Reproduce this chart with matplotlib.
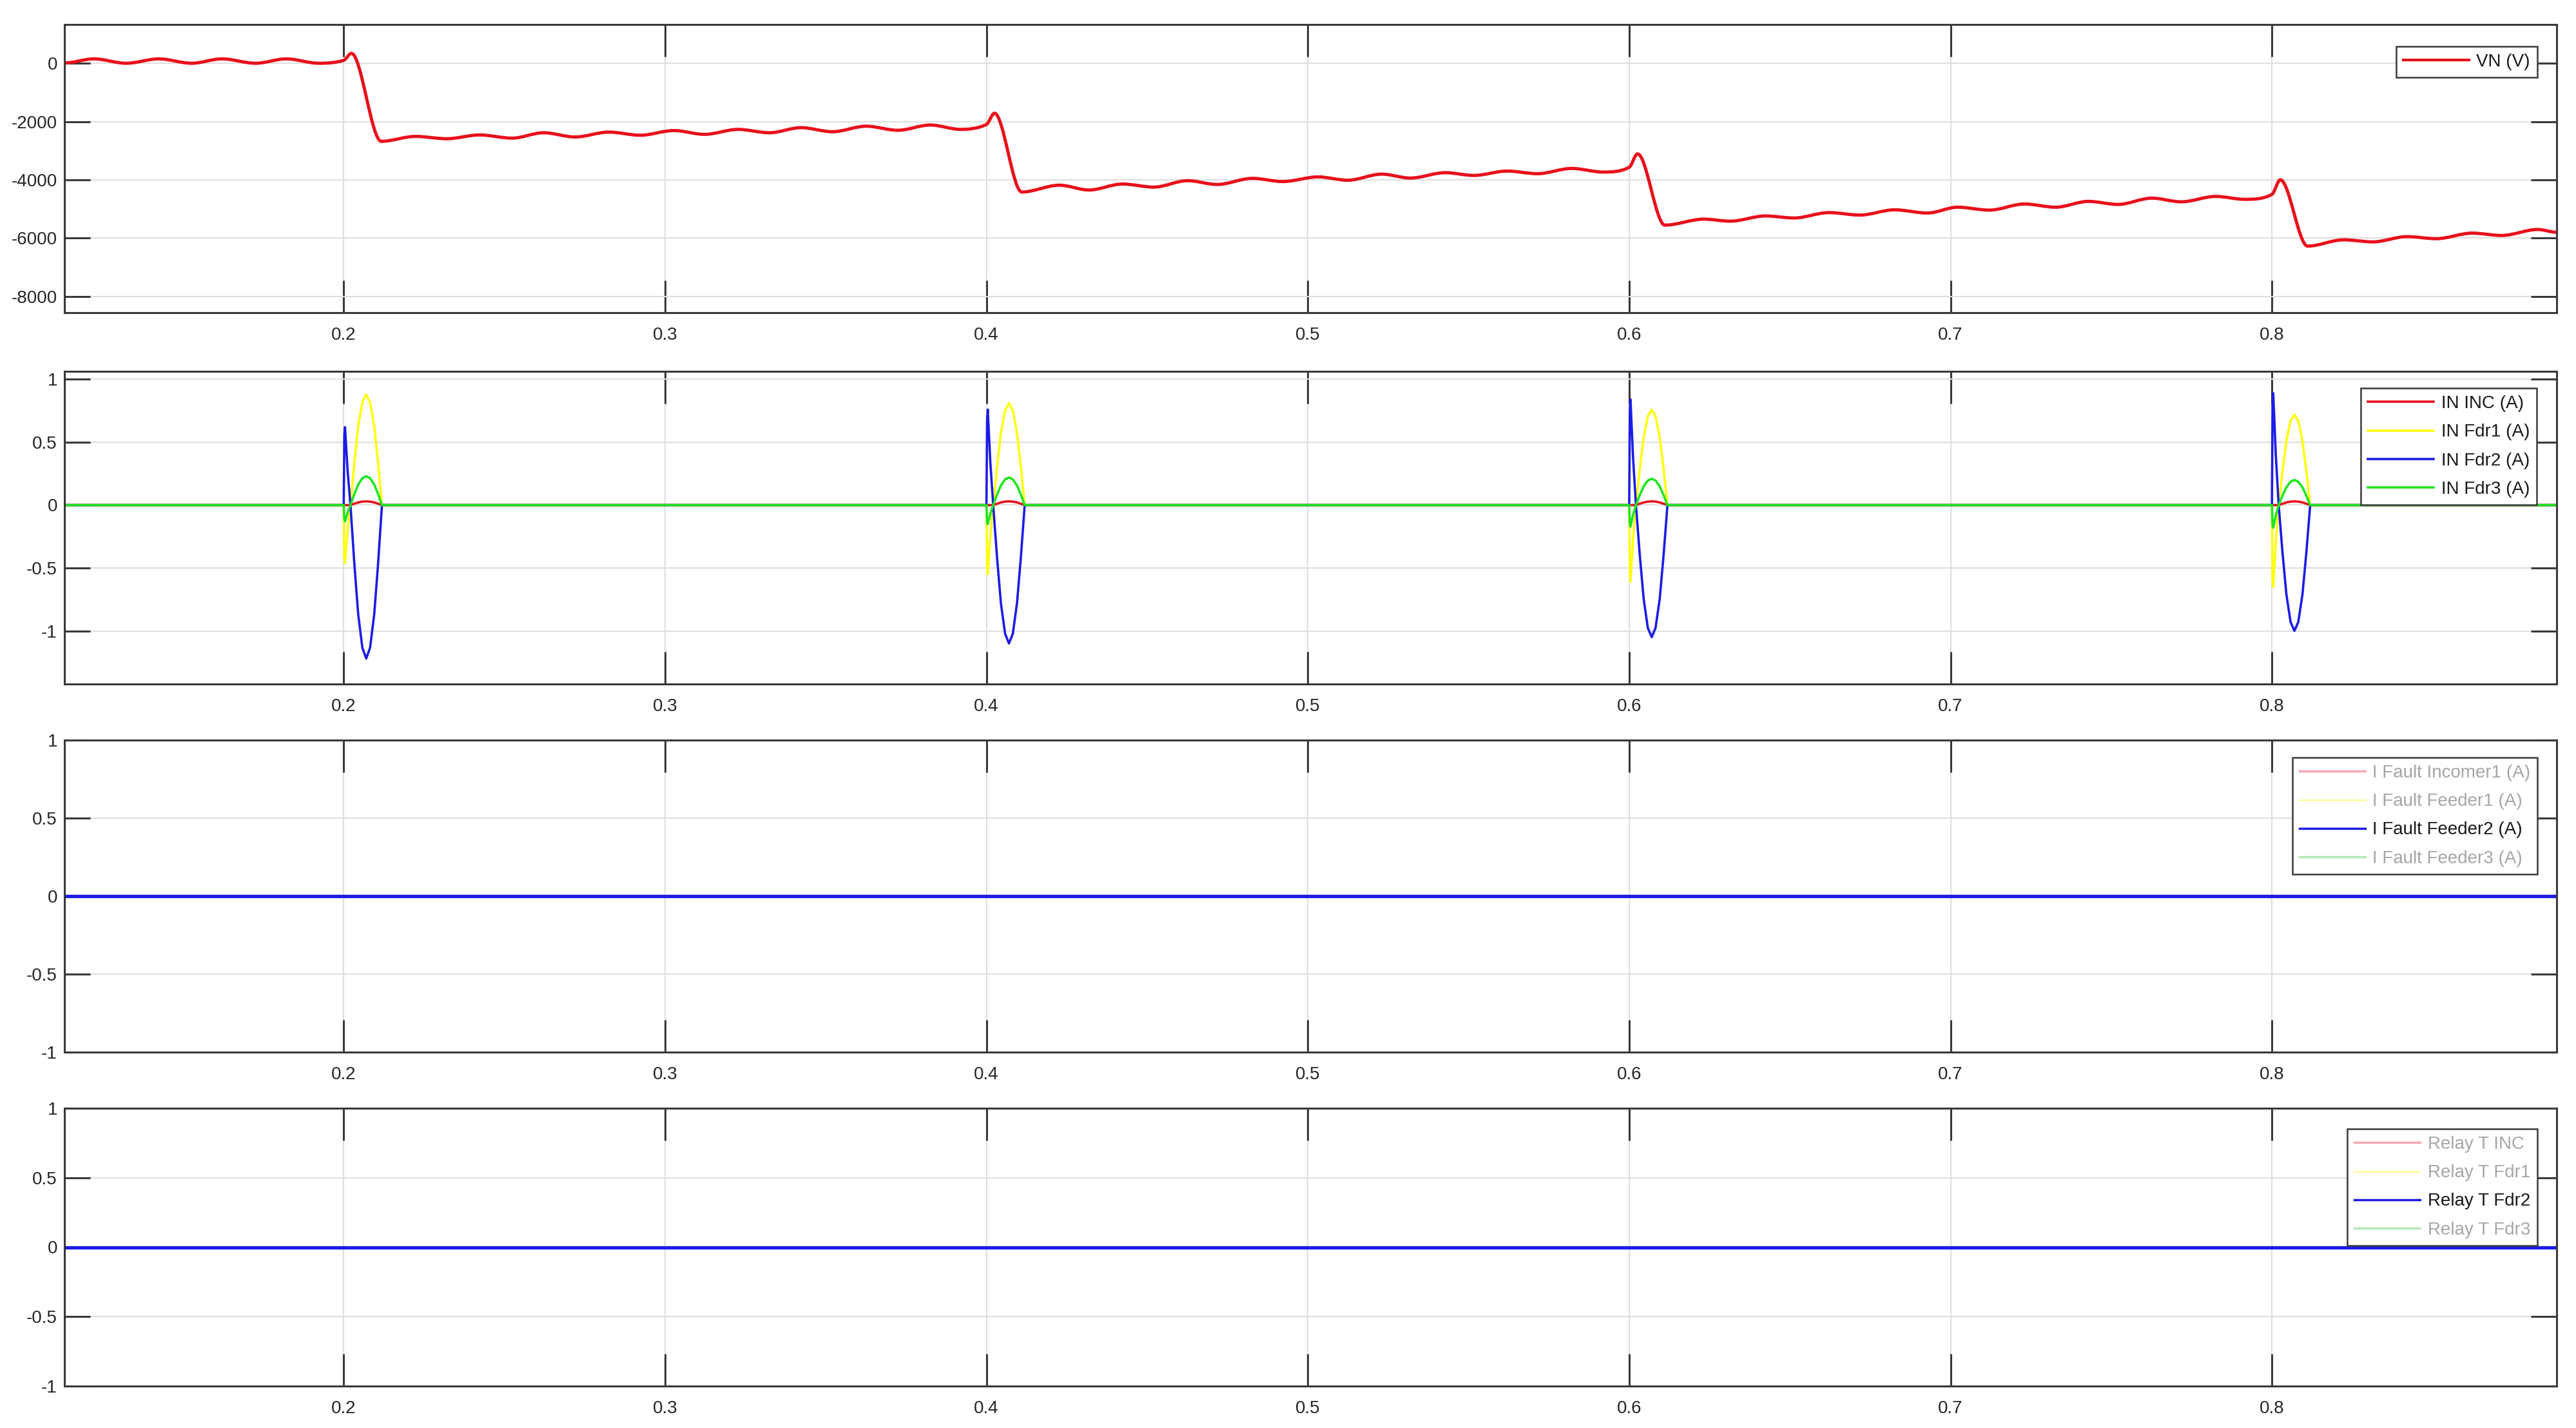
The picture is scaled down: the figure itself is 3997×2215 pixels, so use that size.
import numpy as np
import matplotlib
matplotlib.use("Agg")
import matplotlib.pyplot as plt
from matplotlib import font_manager
from matplotlib.lines import Line2D
from matplotlib.path import Path
from matplotlib.patches import PathPatch

# ---- data ----
X_LIM = (0.1131, 0.8886)
X_TICKS = [0.2, 0.3, 0.4, 0.5, 0.6, 0.7, 0.8]
X_TICK_LABELS = ["0.2", "0.3", "0.4", "0.5", "0.6", "0.7", "0.8"]

# VN (V): peaks / troughs of the trace
VN_T = [0.1131, 0.1223, 0.1323, 0.1425, 0.1527, 0.1621, 0.1726, 0.1821, 0.1923, 0.2000, 0.2024,
        0.2117, 0.2223, 0.2321, 0.2423, 0.2524, 0.2622, 0.2720, 0.2825, 0.2923, 0.3027,
        0.3123, 0.3227, 0.3325, 0.3423, 0.3521, 0.3626, 0.3724, 0.3825, 0.3920, 0.4000, 0.4025,
        0.4110, 0.4227, 0.4319, 0.4423, 0.4521, 0.4626, 0.4718, 0.4828, 0.4922, 0.5032,
        0.5124, 0.5230, 0.5319, 0.5428, 0.5517, 0.5620, 0.5715, 0.5821, 0.5920, 0.6000, 0.6026,
        0.6111, 0.6232, 0.6315, 0.6424, 0.6513, 0.6622, 0.6718, 0.6826, 0.6928, 0.7022,
        0.7121, 0.7230, 0.7327, 0.7429, 0.7521, 0.7626, 0.7718, 0.7825, 0.7915, 0.8000, 0.8026,
        0.8111, 0.8223, 0.8315, 0.8420, 0.8512, 0.8623, 0.8715, 0.8827, 0.8886]
VN_V = [10, 150, 0, 150, 0, 150, 0, 150, 0, 100, 340,
        -2680, -2510, -2590, -2460, -2570, -2385, -2530, -2363, -2470, -2310,
        -2440, -2270, -2385, -2210, -2350, -2160, -2300, -2120, -2270, -2100, -1715,
        -4420, -4185, -4350, -4145, -4250, -4030, -4160, -3950, -4060, -3900,
        -4015, -3805, -3940, -3755, -3850, -3700, -3790, -3610, -3735, -3570, -3110,
        -5555, -5350, -5420, -5240, -5310, -5125, -5210, -5030, -5140, -4940,
        -5040, -4830, -4940, -4740, -4845, -4630, -4755, -4570, -4670, -4500, -4000,
        -6275, -6060, -6130, -5950, -6020, -5830, -5910, -5705, -5800]
VN_YLIM = (-8560, 1330)
VN_YTICKS = [0, -2000, -4000, -6000, -8000]

# IN currents (A): transient at each fault instant
FAULT_T = [0.2, 0.4, 0.6, 0.8]
PULSE_REL_T = [0.0, 0.0002, 0.0004, 0.0012, 0.0021, 0.0033, 0.0045, 0.0058,
               0.0070, 0.0082, 0.0095, 0.0107, 0.0119]
SPIKE_SHAPE = [0.0, 0.9, 1.0, 0.45, 0.0, 0.0, 0.0, 0.0, 0.0, 0.0, 0.0, 0.0, 0.0]
LOBE_SHAPE = [0.0, 0.0, 0.0, 0.0, 0.0, 0.38, 0.71, 0.93, 1.0, 0.93, 0.71, 0.38, 0.0]
IN_INC_SPIKE = [0.0, 0.0, 0.0, 0.0]
IN_INC_LOBE = [0.03, 0.03, 0.03, 0.03]
IN_FDR1_SPIKE = [-0.46, -0.55, -0.61, -0.65]
IN_FDR1_LOBE = [0.88, 0.81, 0.76, 0.72]
IN_FDR2_SPIKE = [0.62, 0.76, 0.84, 0.89]
IN_FDR2_LOBE = [-1.22, -1.10, -1.05, -1.00]
IN_FDR3_SPIKE = [-0.13, -0.15, -0.17, -0.18]
IN_FDR3_LOBE = [0.23, 0.22, 0.21, 0.20]
IN_YLIM = (-1.423, 1.064)

UNIT_YTICKS = [1, 0.5, 0, -0.5, -1]
UNIT_YTICK_LABELS = ["1", "0.5", "0", "-0.5", "-1"]

# fault current and relay trip: only Feeder2 shown, flat at 0
FLAT_T = [X_LIM[0], X_LIM[1]]
I_FAULT_FDR2 = [0, 0]
RELAY_T_FDR2 = [0, 0]

IN_LABELS = ["IN INC (A)", "IN Fdr1 (A)", "IN Fdr2 (A)", "IN Fdr3 (A)"]
FAULT_LABELS = ["I Fault Incomer1 (A)", "I Fault Feeder1 (A)", "I Fault Feeder2 (A)", "I Fault Feeder3 (A)"]
RELAY_LABELS = ["Relay T INC", "Relay T Fdr1", "Relay T Fdr2", "Relay T Fdr3"]

# ---- style ----
RED, YELLOW, BLUE, GREEN = "#e8101c", "#ffff10", "#1c1ce6", "#1ee61e"
FADED = ["#f6a8b4", "#fdfdb0", BLUE, "#b4e8b4"]
SPINE = "#3a3a3a"
GRID = "#dedede"

names = {f.name for f in font_manager.fontManager.ttflist}
if "Liberation Sans Narrow" in names:
    FONT, FS = "Liberation Sans Narrow", 24
else:
    FONT, FS = "Liberation Sans", 20
plt.rcParams["font.family"] = [FONT, "DejaVu Sans"]
plt.rcParams["axes.unicode_minus"] = False

W, H = 3998, 2215
fig = plt.figure(figsize=(W / 100, H / 100), dpi=100)

LEFT, RIGHT = 100, 3967
panels_px = [(38, 485), (576, 1061), (1148, 1632), (1719, 2150)]
legend_off = [(30, 34), (31, 26), (30, 27), (30, 32)]


def smooth_path(t, v):
    t = np.asarray(t, float)
    v = np.asarray(v, float)
    n = len(t)
    m = np.zeros(n)
    for i in range(1, n - 1):
        if (v[i] - v[i - 1]) * (v[i + 1] - v[i]) > 0:
            m[i] = (v[i + 1] - v[i - 1]) / (t[i + 1] - t[i - 1])
    verts = [(t[0], v[0])]
    codes = [Path.MOVETO]
    for i in range(n - 1):
        dt = t[i + 1] - t[i]
        verts += [(t[i] + dt / 3, v[i] + m[i] * dt / 3),
                  (t[i + 1] - dt / 3, v[i + 1] - m[i + 1] * dt / 3),
                  (t[i + 1], v[i + 1])]
        codes += [Path.CURVE4] * 3
    return Path(verts, codes)


def pulse_train(spikes, lobes):
    t, v = [X_LIM[0]], [0.0]
    for t0, s, a in zip(FAULT_T, spikes, lobes):
        for rt, ss, ll in zip(PULSE_REL_T, SPIKE_SHAPE, LOBE_SHAPE):
            t.append(t0 + rt)
            v.append(s * ss + a * ll)
    t.append(X_LIM[1])
    v.append(0.0)
    return t, v


def style_axes(ax, yticks, ylabels, ylim):
    ax.set_xlim(*X_LIM)
    ax.set_ylim(*ylim)
    ax.set_xticks(X_TICKS)
    ax.set_xticklabels(X_TICK_LABELS)
    ax.set_yticks(yticks)
    ax.set_yticklabels(ylabels)
    ax.set_axisbelow(True)
    ax.grid(True, color=GRID, lw=1.5)
    for s in ax.spines.values():
        s.set_color(SPINE)
        s.set_linewidth(2.2)
    ax.tick_params(direction="in", top=True, right=True, colors=SPINE, width=2.2,
                   labelsize=FS, labelcolor="#262626")
    ax.tick_params(axis="x", length=36, pad=16)
    ax.tick_params(axis="y", length=29, pad=8)


def add_legend(ax, handles, labels, off, text_colors=None):
    x0, y0, x1, y1 = ax.get_position().extents
    axw = (x1 - x0) * W
    axh = (y1 - y0) * H
    leg = ax.legend(handles, labels, loc="upper right",
                    bbox_to_anchor=(1 - off[0] / axw, 1 - off[1] / axh),
                    borderaxespad=0, fontsize=FS, frameon=True, fancybox=False,
                    framealpha=1, edgecolor=SPINE,
                    handlelength=73.4 / FS, handletextpad=8.0 / FS,
                    borderpad=8.0 / FS, labelspacing=(36.1 - 1.15 * FS) / FS)
    leg.get_frame().set_linewidth(1.8)
    for i, txt in enumerate(leg.get_texts()):
        txt.set_color(text_colors[i] if text_colors else "#1a1a1a")
    return leg


axes = []
for top, bot in panels_px:
    ax = fig.add_axes([LEFT / W, 1 - bot / H, (RIGHT - LEFT) / W, (bot - top) / H])
    axes.append(ax)

# panel 1: VN
ax = axes[0]
style_axes(ax, VN_YTICKS, [str(v) for v in VN_YTICKS], VN_YLIM)
ax.add_patch(PathPatch(smooth_path(VN_T, VN_V), fill=False, edgecolor=RED, lw=3.6,
                       joinstyle="round", capstyle="round"))
add_legend(ax, [Line2D([], [], color=RED, lw=3.0)], ["VN (V)"], legend_off[0])

# panel 2: IN currents
ax = axes[1]
style_axes(ax, UNIT_YTICKS, UNIT_YTICK_LABELS, IN_YLIM)
in_series = [(IN_INC_SPIKE, IN_INC_LOBE, RED), (IN_FDR1_SPIKE, IN_FDR1_LOBE, YELLOW),
             (IN_FDR2_SPIKE, IN_FDR2_LOBE, BLUE), (IN_FDR3_SPIKE, IN_FDR3_LOBE, GREEN)]
handles = []
for sp, lo, col in in_series:
    t, v = pulse_train(sp, lo)
    h, = ax.plot(t, v, color=col, lw=2.6)
    handles.append(h)
add_legend(ax, handles, IN_LABELS, legend_off[1])

# panels 3 and 4: only Feeder2 trace enabled
faded_text = ["#a6a6a6", "#a6a6a6", "#1a1a1a", "#a6a6a6"]
for ax, series, labels, off in [(axes[2], I_FAULT_FDR2, FAULT_LABELS, legend_off[2]),
                                (axes[3], RELAY_T_FDR2, RELAY_LABELS, legend_off[3])]:
    style_axes(ax, UNIT_YTICKS, UNIT_YTICK_LABELS, (-1, 1))
    ax.plot(FLAT_T, series, color=BLUE, lw=3.8)
    hs = [Line2D([], [], color=c, lw=2.5) for c in FADED]
    add_legend(ax, hs, labels, off, faded_text)

fig.savefig("out.png", dpi=100, facecolor="white")
